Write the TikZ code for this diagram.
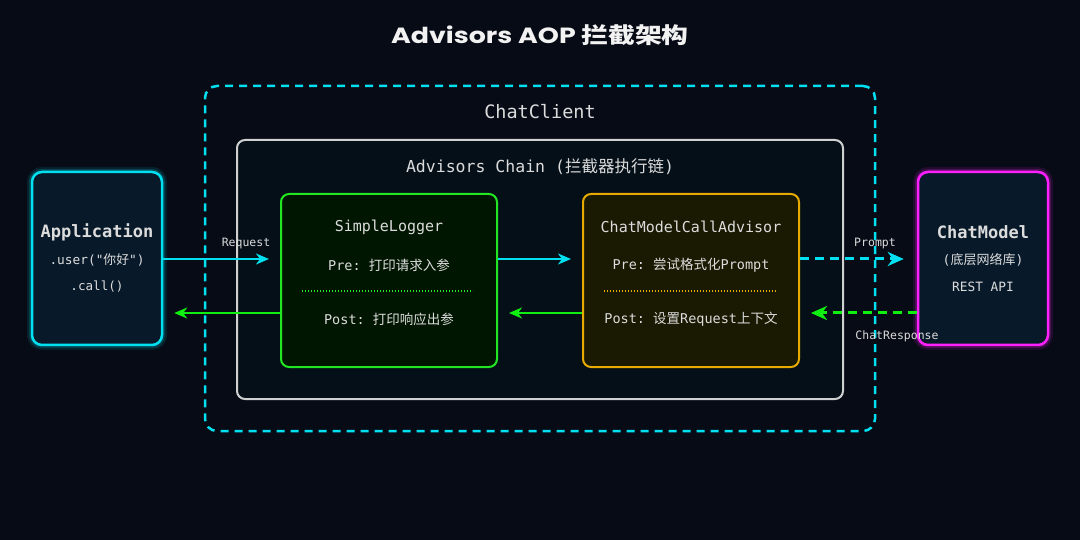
\documentclass[tikz,border=0pt]{standalone}
\usepackage{fontspec}
\usepackage{graphicx}
\setmonofont{DejaVu Sans Mono}
\newfontfamily\cjk{Noto Sans CJK SC}
\newfontfamily\titlefont{Poppins}
\usetikzlibrary{arrows.meta,calc}
\definecolor{bg}{HTML}{070B16}
\definecolor{txt}{HTML}{DCDCDC}
\definecolor{cy}{HTML}{00E0F0}
\definecolor{gr}{HTML}{22E622}
\definecolor{grarrow}{HTML}{10F010}
\definecolor{gold}{HTML}{E6AA00}
\definecolor{mag}{HTML}{FF20FF}
\definecolor{appfill}{HTML}{081A2A}
\definecolor{slfill}{HTML}{001600}
\definecolor{cmfill}{HTML}{1A1A02}
\definecolor{chainfill}{HTML}{050F18}
\definecolor{chainline}{HTML}{D0D0D0}
\newcommand{\titletext}{\scalebox{1.22}[1]{Advisors AOP {\cjk\bfseries 拦截架构}}}
\tikzset{
  lbl/.style={text=txt, inner sep=0pt, anchor=center, font=\ttfamily\fontsize{13.5}{15}\selectfont},
  glowbox/.style={rounded corners=10pt, line width=2.5pt},
  arrowlbl/.style={text=txt, inner sep=0pt, anchor=center, font=\ttfamily\fontsize{11.5}{13}\selectfont},
  cyarrow/.style={draw=cy, line width=2pt, -{Stealth[length=13pt,width=11pt,inset=4pt]}, shorten >=11pt},
  grarrowst/.style={draw=grarrow, line width=2pt, -{Stealth[length=13pt,width=11pt,inset=4pt]}, shorten >=11pt},
  cydash/.style={draw=cy, line width=3pt, dash pattern=on 9pt off 6pt, -{Stealth[length=16pt,width=14pt,inset=5pt]}, shorten >=13pt},
  grdash/.style={draw=grarrow, line width=3pt, dash pattern=on 9pt off 6pt, -{Stealth[length=16pt,width=14pt,inset=5pt]}, shorten >=11pt},
  titlestyle/.style={text=white!90!gray, inner sep=0pt, font=\titlefont\bfseries\fontsize{22}{25}\selectfont},
}
\begin{document}
\begin{tikzpicture}[x=1pt,y=-1pt]
\fill[bg] (0,0) rectangle (1080,540);
\useasboundingbox (0,0) rectangle (1080,540);

% title
\node (title) [titlestyle] at (540,35) {\titletext};

% ChatClient container
\node (client) [draw=cy, line width=2.5pt, dash pattern=on 8pt off 6pt, rounded corners=12pt, minimum width=670pt, minimum height=345pt, inner sep=0pt] at (540,258.5) {};
\node (clientlbl) [lbl, font=\ttfamily\fontsize{18.5}{20}\selectfont] at (540,112) {ChatClient};

% Advisors chain
\node (chain) [draw=chainline, fill=chainfill, line width=2pt, rounded corners=8pt, minimum width=606pt, minimum height=259pt, inner sep=0pt] at (540,269.5) {};
\node (chainlbl) [lbl, font=\ttfamily\fontsize{16.5}{18}\selectfont] at (540,167) {Advisors Chain ({\cjk 拦截器执行链})};

% Application
\foreach \w/\o in {10/0.10,6/0.18}{
  \draw[cy, line width=\w pt, opacity=\o, rounded corners=10pt] (32,172) rectangle (162,345);
}
\node (app) [draw=cy, fill=appfill, glowbox, minimum width=130pt, minimum height=173pt, inner sep=0pt] at (97,258.5) {};
\node (apptitle) [lbl, font=\ttfamily\bfseries\fontsize{17}{19}\selectfont] at (97,232) {Application};
\node (appuser) [lbl, font=\ttfamily\fontsize{12.8}{14}\selectfont] at (97,260) {.user("{\cjk 你好}")};
\node (appcall) [lbl, font=\ttfamily\fontsize{12.6}{14}\selectfont] at (97,287) {.call()};

% ChatModel
\foreach \w/\o in {10/0.10,6/0.18}{
  \draw[mag, line width=\w pt, opacity=\o, rounded corners=10pt] (918,172) rectangle (1048,345);
}
\node (cmodel) [draw=mag, fill=appfill, glowbox, minimum width=130pt, minimum height=173pt, inner sep=0pt] at (983,258.5) {};
\node (cmtitle) [lbl, font=\ttfamily\bfseries\fontsize{17}{19}\selectfont] at (983,232) {ChatModel};
\node (cmsub) [lbl, font=\ttfamily\fontsize{13}{15}\selectfont] at (983,260) {({\cjk 底层网络库})};
\node (cmrest) [lbl, font=\ttfamily\fontsize{12.8}{15}\selectfont] at (983,287) {REST API};

% SimpleLogger
\node (sl) [draw=gr, fill=slfill, line width=2pt, rounded corners=8pt, minimum width=216pt, minimum height=173pt, inner sep=0pt] at (389,280.5) {};
\node (sltitle) [lbl, font=\ttfamily\fontsize{15}{17}\selectfont] at (389,227) {SimpleLogger};
\node (slpre) [lbl] at (389,265) {Pre: {\cjk 打印请求入参}};
\draw[gr, line width=1.3pt, dash pattern=on 1.3pt off 1.7pt] (302,291) -- (473,291);
\node (slpost) [lbl] at (389,319) {Post: {\cjk 打印响应出参}};

% ChatModelCallAdvisor
\node (cm) [draw=gold, fill=cmfill, line width=2pt, rounded corners=8pt, minimum width=216pt, minimum height=173pt, inner sep=0pt] at (691,280.5) {};
\node (cmctitle) [lbl, font=\ttfamily\fontsize{15}{17}\selectfont] at (691,227) {ChatModelCallAdvisor};
\node (cmpre) [lbl] at (691,265) {Pre: {\cjk 尝试格式化}Prompt};
\draw[gold, line width=1.3pt, dash pattern=on 1.3pt off 1.7pt] (604,291) -- (776,291);
\node (cmpost) [lbl] at (691,319) {Post: {\cjk 设置}Request{\cjk 上下文}};

% level coordinates
\coordinate (up) at (0,259);
\coordinate (down) at (0,313);

% arrows
\draw[cyarrow] (app.east |- up) -- (sl.west |- up);
\draw[cyarrow] (sl.east |- up) -- (cm.west |- up);
\draw[cydash] (cm.east |- up) -- (cmodel.west |- up);
\draw[grdash] (cmodel.west |- down) -- (cm.east |- down);
\draw[grarrowst] (cm.west |- down) -- (sl.east |- down);
\draw[grarrowst] (sl.west |- down) -- (app.east |- down);

\node (reqlbl) [arrowlbl] at (246,244) {Request};
\node (promptlbl) [arrowlbl] at (875,244) {Prompt};
\node (resplbl) [arrowlbl] at (897,336) {ChatResponse};
\end{tikzpicture}
\end{document}
